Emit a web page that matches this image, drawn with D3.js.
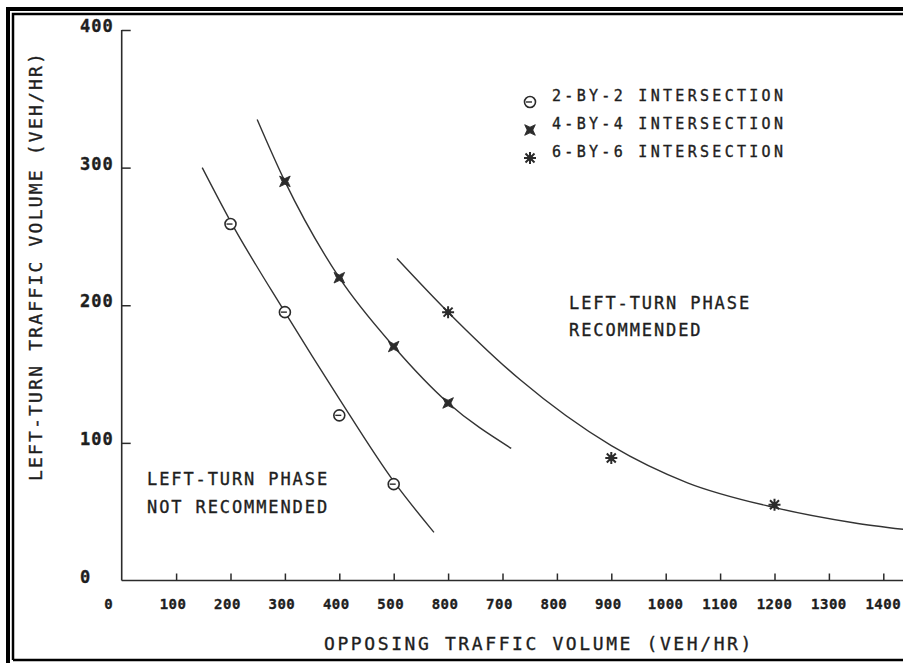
<!DOCTYPE html>
<html>
<head>
<meta charset="utf-8">
<script src="https://cdn.jsdelivr.net/npm/d3@7"></script>
<style>
  body { margin: 0; background: #fff; }
  svg { display: block; }
  text { font-family: "DejaVu Sans Mono", monospace; fill: #1e1e1e; stroke: #1e1e1e; stroke-width: 0.35px; }
</style>
</head>
<body>
<div id="chart"></div>
<script>
// tick values
var xTicks = [0, 100, 200, 300, 400, 500, 600, 700, 800, 900, 1000, 1100, 1200, 1300, 1400];
// the scan prints "800" under the 600 tick
var xTickLabels = ["0", "100", "200", "300", "400", "500", "800", "700", "800", "900", "1000", "1100", "1200", "1300", "1400"];
var yTicks = [0, 100, 200, 300, 400];

// measured points [opposing, left-turn]
var pts2by2 = [[200, 259], [300, 195], [400, 120], [500, 70]];
var pts4by4 = [[300, 290], [400, 220], [500, 170], [600, 129]];
var pts6by6 = [[600, 195], [900, 89], [1200, 55]];

// fitted curves
var curve2by2 = [[148, 300], [200, 261], [300, 195], [400, 132], [500, 72], [574, 35]];
var curve4by4 = [[249, 335], [300, 290], [400, 220], [500, 170], [600, 129], [716, 96]];
var curve6by6 = [[506, 234], [600, 195], [732, 146], [900, 98], [1040, 71], [1200, 53], [1345, 42], [1440, 37]];

var legendLabels = ["2-BY-2 INTERSECTION", "4-BY-4 INTERSECTION", "6-BY-6 INTERSECTION"];

var width = 903, height = 663;
var ink = "#2b2b2b";

var svg = d3.select("#chart")
    .append("svg")
    .attr("width", width)
    .attr("height", height);

// frame (cut off on the right by the scan)
svg.append("path")
    .attr("d", "M8,663V9H903")
    .attr("fill", "none").attr("stroke", "#000").attr("stroke-width", 4);
svg.append("path")
    .attr("d", "M13,660V14H903M13,660H903")
    .attr("fill", "none").attr("stroke", "#000").attr("stroke-width", 2.5);

var x = d3.scaleLinear().domain([0, 1400]).range([121.7, 883.3]);
var y = d3.scaleLinear().domain([0, 400]).range([580.5, 30]);

// x axis
var gx = svg.append("g")
    .attr("transform", "translate(0," + y(0) + ")")
    .call(d3.axisBottom(x).tickValues(xTicks.slice(1)).tickSize(-7).tickSizeOuter(0).tickFormat(""));
gx.select(".domain").remove();
gx.selectAll(".tick line").attr("stroke", ink).attr("stroke-width", 1.5);
gx.append("line")
    .attr("x1", x(0)).attr("x2", width)
    .attr("stroke", ink).attr("stroke-width", 1.6);

svg.selectAll(".xlab")
    .data(xTicks)
    .enter()
    .append("text")
    .attr("class", "xlab")
    .attr("x", function (d) { return x(d) + (d == 0 ? -13 : (d < 1000 ? -3 : 0)); })
    .attr("y", 609)
    .attr("text-anchor", "middle")
    .attr("font-size", "14px")
    .attr("font-weight", "bold")
    .attr("letter-spacing", "0.5px")
    .text(function (d, i) { return xTickLabels[i]; });

// y axis
var gy = svg.append("g")
    .attr("transform", "translate(" + x(0) + ",0)")
    .call(d3.axisLeft(y).tickValues(yTicks.slice(1)).tickSize(-9).tickSizeOuter(0).tickFormat(""));
gy.select(".domain").remove();
gy.selectAll(".tick line").attr("stroke", ink).attr("stroke-width", 1.5);
gy.append("line")
    .attr("y1", y(0)).attr("y2", y(400))
    .attr("stroke", ink).attr("stroke-width", 1.6);

svg.selectAll(".ylab")
    .data(yTicks)
    .enter()
    .append("text")
    .attr("class", "ylab")
    .attr("x", 80)
    .attr("y", function (d) { return y(d) + 2; })
    .attr("font-size", "17px")
    .attr("font-weight", "bold")
    .attr("letter-spacing", "1px")
    .text(function (d) { return d; });

// axis titles
svg.append("text")
    .attr("x", 539).attr("y", 650)
    .attr("text-anchor", "middle")
    .attr("font-size", "18px")
    .attr("letter-spacing", "2.6px")
    .text("OPPOSING TRAFFIC VOLUME (VEH/HR)");

svg.append("text")
    .attr("transform", "translate(42,266) rotate(-90)")
    .attr("text-anchor", "middle")
    .attr("font-size", "18px")
    .attr("letter-spacing", "2.2px")
    .text("LEFT-TURN TRAFFIC VOLUME (VEH/HR)");

// curves
var line = d3.line()
    .x(function (d) { return x(d[0]); })
    .y(function (d) { return y(d[1]); })
    .curve(d3.curveMonotoneX);

[curve2by2, curve4by4, curve6by6].forEach(function (c) {
    svg.append("path")
        .attr("d", line(c))
        .attr("fill", "none")
        .attr("stroke", "#333")
        .attr("stroke-width", 1.4);
});

// marker shapes
function circleMark(g) {
    g.append("circle").attr("r", 5.5)
        .attr("fill", "#fff").attr("stroke", ink).attr("stroke-width", 1.6);
    g.append("line").attr("x1", -4).attr("x2", 2)
        .attr("stroke", ink).attr("stroke-width", 1.4);
}
function sparkMark(g) {
    g.append("path")
        .attr("d", "M0,-7.5L2,-2L7.5,0L2,2L0,7.5L-2,2L-7.5,0L-2,-2Z")
        .attr("transform", "rotate(45)")
        .attr("fill", ink).attr("stroke", ink).attr("stroke-width", 0.8);
}
function starMark(g) {
    g.append("path")
        .attr("d", "M-6,0H6M0,-6V6M-4.5,-4.5L4.5,4.5M-4.5,4.5L4.5,-4.5")
        .attr("stroke", ink).attr("stroke-width", 2);
    g.append("circle").attr("r", 2.8).attr("fill", ink);
}

var series = [
    {pts: pts2by2, mark: circleMark},
    {pts: pts4by4, mark: sparkMark},
    {pts: pts6by6, mark: starMark}
];

series.forEach(function (s) {
    svg.selectAll(null)
        .data(s.pts)
        .enter()
        .append("g")
        .attr("transform", function (d) { return "translate(" + x(d[0]) + "," + y(d[1]) + ")"; })
        .each(function () { s.mark(d3.select(this)); });
});

// legend
var legend = svg.append("g");
legendLabels.forEach(function (lab, i) {
    var row = legend.append("g").attr("transform", "translate(0," + (i * 28) + ")");
    series[i].mark(row.append("g").attr("transform", "translate(530,102)"));
    row.append("text")
        .attr("x", 552).attr("y", 101)
        .attr("font-size", "15px")
        .attr("letter-spacing", "3.3px")
        .text(lab);
});

// region notes
svg.append("text").attr("x", 147).attr("y", 485)
    .attr("font-size", "17px").attr("letter-spacing", "1.9px")
    .text("LEFT-TURN PHASE");
svg.append("text").attr("x", 147).attr("y", 513)
    .attr("font-size", "17px").attr("letter-spacing", "1.9px")
    .text("NOT RECOMMENDED");
svg.append("text").attr("x", 569).attr("y", 309)
    .attr("font-size", "17px").attr("letter-spacing", "1.9px")
    .text("LEFT-TURN PHASE");
svg.append("text").attr("x", 569).attr("y", 336)
    .attr("font-size", "17px").attr("letter-spacing", "1.9px")
    .text("RECOMMENDED");
</script>
</body>
</html>
